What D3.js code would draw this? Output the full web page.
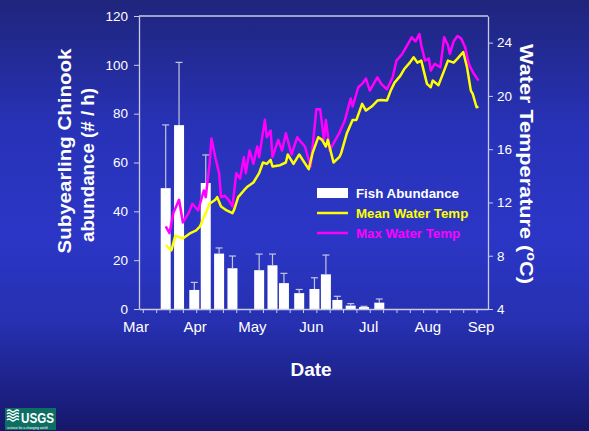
<!DOCTYPE html>
<html>
<head>
<meta charset="utf-8">
<script src="https://cdn.jsdelivr.net/npm/d3@7"></script>
<style>
  html, body { margin: 0; padding: 0; background: #1f2580; }
  svg { display: block; font-family: "Liberation Sans", Arial, sans-serif; }
</style>
</head>
<body>
<svg id="chart" width="589" height="431"></svg>
<script>
// Weekly subyearling Chinook catch rate (fish per hour) with standard-error whiskers
const sampleDates = ["2003-03-15","2003-03-22","2003-03-30","2003-04-05","2003-04-12","2003-04-19",
                     "2003-05-03","2003-05-10","2003-05-16","2003-05-24","2003-06-01","2003-06-07",
                     "2003-06-13","2003-06-20","2003-06-27","2003-07-05"];
const abundance   = [49.5, 75.3, 7.8, 51.6, 22.7, 16.7, 15.9, 17.9, 10.6, 6.5, 8.2, 14.2, 3.7, 1.4, 0.8, 2.6];
const abundanceSE = [25.9, 25.7, 3.1, 11.5, 2.3, 5.0, 6.6, 4.6, 4.0, 1.5, 4.6, 7.9, 1.5, 0.8, 0.3, 1.5];

// Mean daily water temperature (°C)
const meanDates = ["2003-03-15","2003-03-18","2003-03-20","2003-03-24","2003-03-28","2003-03-31","2003-04-02",
  "2003-04-04","2003-04-05","2003-04-07","2003-04-10","2003-04-11","2003-04-13","2003-04-16","2003-04-19",
  "2003-04-20","2003-04-22","2003-04-25","2003-04-27","2003-04-30","2003-05-03","2003-05-05","2003-05-07",
  "2003-05-09","2003-05-10","2003-05-14","2003-05-17","2003-05-18","2003-05-21","2003-05-24","2003-05-29",
  "2003-05-31","2003-06-03","2003-06-05","2003-06-07","2003-06-08","2003-06-11","2003-06-14","2003-06-15",
  "2003-06-18","2003-06-21","2003-06-23","2003-06-26","2003-06-28","2003-07-01","2003-07-04","2003-07-06",
  "2003-07-09","2003-07-11","2003-07-13","2003-07-16","2003-07-18","2003-07-21","2003-07-23","2003-07-25",
  "2003-07-27","2003-07-30","2003-08-01","2003-08-02","2003-08-05","2003-08-08","2003-08-10","2003-08-13",
  "2003-08-15","2003-08-18","2003-08-20","2003-08-22","2003-08-23","2003-08-25","2003-08-26"];
const meanTemp = [8.8, 8.4, 9.5, 9.3, 9.7, 9.9, 10.2,
  10.9, 11.2, 11.9, 12.2, 12.4, 11.7, 11.4, 11.2,
  11.5, 12.4, 12.9, 13.2, 13.5, 14.2, 15.0, 14.9,
  15.2, 14.7, 14.8, 15.0, 15.6, 14.9, 15.6, 14.5,
  15.7, 16.9, 16.7, 16.2, 16.7, 15.0, 15.4, 15.7,
  17.2, 18.2, 18.2, 19.4, 18.9, 19.2, 19.65, 19.7,
  19.65, 20.4, 21.0, 21.5, 22.0, 22.5, 22.9, 22.5,
  22.65, 20.9, 20.65, 21.15, 20.8, 21.9, 22.65, 22.5,
  22.8, 23.3, 22.15, 20.4, 20.15, 19.15, 19.2];

// Maximum daily water temperature (°C)
const maxDates = ["2003-03-15","2003-03-17","2003-03-19","2003-03-22","2003-03-24","2003-03-27","2003-03-29",
  "2003-04-01","2003-04-04","2003-04-05","2003-04-07","2003-04-08","2003-04-10","2003-04-12","2003-04-13",
  "2003-04-15","2003-04-17","2003-04-19","2003-04-21","2003-04-23","2003-04-25","2003-04-26","2003-04-28",
  "2003-04-30","2003-05-02","2003-05-03","2003-05-06","2003-05-07","2003-05-09","2003-05-10","2003-05-13",
  "2003-05-15","2003-05-17","2003-05-20","2003-05-23","2003-05-24","2003-05-27","2003-05-30","2003-06-02",
  "2003-06-04","2003-06-06","2003-06-07","2003-06-09","2003-06-12","2003-06-14","2003-06-17","2003-06-20",
  "2003-06-21","2003-06-24","2003-06-26","2003-06-28","2003-06-30","2003-07-03","2003-07-04","2003-07-06",
  "2003-07-09","2003-07-12","2003-07-14","2003-07-17","2003-07-19","2003-07-22","2003-07-24","2003-07-26",
  "2003-07-27","2003-07-29","2003-07-31","2003-08-01","2003-08-03","2003-08-06","2003-08-08","2003-08-10",
  "2003-08-11","2003-08-13","2003-08-15","2003-08-17","2003-08-19","2003-08-21","2003-08-23","2003-08-26"];
const maxTemp = [10.2, 9.7, 11.2, 12.2, 10.5, 11.2, 11.9,
  11.4, 12.9, 12.4, 14.9, 16.8, 15.4, 14.2, 12.4,
  12.5, 12.2, 11.7, 14.2, 13.8, 15.4, 14.2, 15.9,
  14.9, 16.2, 15.4, 18.2, 16.9, 17.4, 15.4, 16.7,
  15.9, 17.2, 15.6, 16.9, 16.7, 16.2, 14.7, 19.0,
  19.0, 16.7, 18.2, 15.9, 16.7, 17.2, 18.2, 19.8,
  19.2, 20.65, 20.9, 21.3, 20.4, 21.15, 21.4, 20.9,
  20.5, 21.4, 22.65, 23.15, 23.65, 24.4, 24.1, 24.65,
  23.8, 22.65, 22.8, 21.9, 22.4, 22.15, 24.4, 23.8,
  23.15, 24.1, 24.5, 24.3, 23.65, 22.4, 21.8, 21.15];

const monthLabels = ["Mar","Apr","May","Jun","Jul","Aug","Sep"];
const monthStarts = ["2003-03-01","2003-04-01","2003-05-01","2003-06-01","2003-07-01","2003-08-01","2003-09-01"];
const abundanceTicks = [0, 20, 40, 60, 80, 100, 120];
const tempTicks = [4, 8, 12, 16, 20, 24];

const parse = d3.timeParse("%Y-%m-%d");
const W = 589, H = 431;
const plot = { left: 139, right: 488, top: 16, bottom: 309 };

const svg = d3.select("#chart");
const defs = svg.append("defs");
const grad = defs.append("linearGradient").attr("id", "bg").attr("x1", 0).attr("y1", 0).attr("x2", 0).attr("y2", 1);
[["0%", "#1f257c"], ["30%", "#2832b8"], ["55%", "#2b36c6"], ["75%", "#2630b0"], ["100%", "#16176a"]]
  .forEach(([o, c]) => grad.append("stop").attr("offset", o).attr("stop-color", c));
svg.append("rect").attr("width", W).attr("height", H).attr("fill", "url(#bg)");

const x = d3.scaleTime()
  .domain([parse("2003-03-01"), parse("2003-08-31")])
  .range([plot.left, plot.right]);
const yL = d3.scaleLinear().domain([0, 120]).range([plot.bottom, plot.top]);
const yR = d3.scaleLinear().domain([4, 26]).range([plot.bottom, plot.top]);

const axisColor = "#c9cbe6";

// plot frame: top edge
svg.append("line")
  .attr("x1", plot.left).attr("x2", plot.right)
  .attr("y1", plot.top).attr("y2", plot.top)
  .attr("stroke", axisColor).attr("stroke-width", 1.3);

// bars
const bars = sampleDates.map((d, i) => ({ date: parse(d), v: abundance[i], se: abundanceSE[i] }));
const barW = 10;
svg.append("g").selectAll("rect").data(bars).join("rect")
  .attr("x", d => x(d.date) - barW / 2)
  .attr("width", barW)
  .attr("y", d => yL(d.v))
  .attr("height", d => yL(0) - yL(d.v))
  .attr("fill", "#ffffff");

// error whiskers
const eb = svg.append("g").attr("stroke", "#c4c6de").attr("stroke-width", 1.2);
eb.selectAll("line.v").data(bars).join("line").attr("class", "v")
  .attr("x1", d => x(d.date)).attr("x2", d => x(d.date))
  .attr("y1", d => yL(d.v)).attr("y2", d => yL(d.v + d.se));
eb.selectAll("line.c").data(bars).join("line").attr("class", "c")
  .attr("x1", d => x(d.date) - 3.5).attr("x2", d => x(d.date) + 3.5)
  .attr("y1", d => yL(d.v + d.se)).attr("y2", d => yL(d.v + d.se));

// temperature lines
const line = d3.line().x(d => x(d.date)).y(d => yR(d.t));
const maxSeries = maxDates.map((d, i) => ({ date: parse(d), t: maxTemp[i] }));
const meanSeries = meanDates.map((d, i) => ({ date: parse(d), t: meanTemp[i] }));
svg.append("path").datum(maxSeries).attr("d", line)
  .attr("fill", "none").attr("stroke", "#ff00ff").attr("stroke-width", 2.5).attr("stroke-linejoin", "round");
svg.append("path").datum(meanSeries).attr("d", line)
  .attr("fill", "none").attr("stroke", "#ffff00").attr("stroke-width", 2.5).attr("stroke-linejoin", "round");

// axes
function styleAxis(g) {
  g.select(".domain").attr("stroke", axisColor).attr("stroke-width", 1.3);
  g.selectAll(".tick line").attr("stroke", axisColor);
  g.selectAll(".tick text").attr("fill", "#ffffff").attr("font-size", 13.5);
}

const xAxis = d3.axisBottom(x)
  .tickValues(d3.timeDay.range(parse("2003-03-03"), parse("2003-08-31"), 7))
  .tickSize(4).tickFormat("").tickSizeOuter(0);
svg.append("g").attr("transform", `translate(0,${plot.bottom})`).call(xAxis).call(styleAxis);

// month labels
svg.append("g").selectAll("text").data(monthStarts).join("text")
  .attr("x", d => Math.min(x(parse(d)) - 3, plot.right - 7))
  .attr("y", plot.bottom + 23)
  .attr("text-anchor", "middle")
  .attr("fill", "#ffffff").attr("font-size", 15)
  .text((d, i) => monthLabels[i]);

const yAxisL = d3.axisLeft(yL).tickValues(abundanceTicks).tickSize(5).tickPadding(6).tickSizeOuter(0);
svg.append("g").attr("transform", `translate(${plot.left},0)`).call(yAxisL).call(styleAxis);

const yAxisR = d3.axisRight(yR).tickValues(tempTicks).tickSize(5).tickPadding(4).tickSizeOuter(0);
svg.append("g").attr("transform", `translate(${plot.right},0)`).call(yAxisR).call(styleAxis);

// axis titles
const title = svg.append("g").attr("fill", "#ffffff").attr("font-weight", "bold").attr("font-size", 18);
title.append("text")
  .attr("transform", "translate(71,151) rotate(-90)")
  .attr("text-anchor", "middle")
  .attr("textLength", 205).attr("lengthAdjust", "spacingAndGlyphs")
  .text("Subyearling Chinook");
title.append("text")
  .attr("transform", "translate(94,165) rotate(-90)")
  .attr("text-anchor", "middle")
  .attr("textLength", 154).attr("lengthAdjust", "spacingAndGlyphs")
  .text("abundance (# / h)");
const rt = title.append("text")
  .attr("transform", "translate(520,164) rotate(90)")
  .attr("text-anchor", "middle")
  .attr("textLength", 240).attr("lengthAdjust", "spacingAndGlyphs");
rt.append("tspan").text("Water Temperature (");
rt.append("tspan").attr("font-size", 12).attr("dy", -7).text("o");
rt.append("tspan").attr("dy", 7).text("C)");
title.append("text")
  .attr("x", 311).attr("y", 376).attr("font-size", 19)
  .attr("text-anchor", "middle").text("Date");

// legend
const legend = svg.append("g").attr("transform", "translate(317,193)");
const legendItems = [
  { label: "Fish Abundance", color: "#ffffff", kind: "bar" },
  { label: "Mean Water Temp", color: "#ffff00", kind: "line" },
  { label: "Max Water Temp", color: "#ff00ff", kind: "line" }
];
legendItems.forEach((it, i) => {
  const g = legend.append("g").attr("transform", `translate(0,${i * 20})`);
  if (it.kind === "bar") {
    g.append("rect").attr("x", 0).attr("y", -5).attr("width", 31).attr("height", 10).attr("fill", it.color);
  } else {
    g.append("line").attr("x1", 0).attr("x2", 31).attr("y1", 0).attr("y2", 0)
      .attr("stroke", it.color).attr("stroke-width", 2.5);
  }
  g.append("text").attr("x", 39).attr("y", 5)
    .attr("fill", it.color).attr("font-size", 13.3).attr("font-weight", "bold")
    .text(it.label);
});

// USGS identifier
const logo = svg.append("g").attr("transform", "translate(5,408)");
logo.append("rect").attr("width", 51).attr("height", 22).attr("fill", "#0d6f63");
const waves = logo.append("g").attr("stroke", "#ffffff").attr("stroke-width", 1.2).attr("fill", "none");
[3, 6, 9, 12].forEach(yy => waves.append("path")
  .attr("d", `M2,${yy} q2,-2 4,0 t4,0 t4,0`));
logo.append("text").attr("x", 16).attr("y", 15)
  .attr("fill", "#ffffff").attr("font-weight", "bold").attr("font-size", 14)
  .attr("textLength", 33).attr("lengthAdjust", "spacingAndGlyphs").text("USGS");
logo.append("text").attr("x", 2).attr("y", 20.5)
  .attr("fill", "#ffffff").attr("font-size", 3.2)
  .text("science for a changing world");
</script>
</body>
</html>
